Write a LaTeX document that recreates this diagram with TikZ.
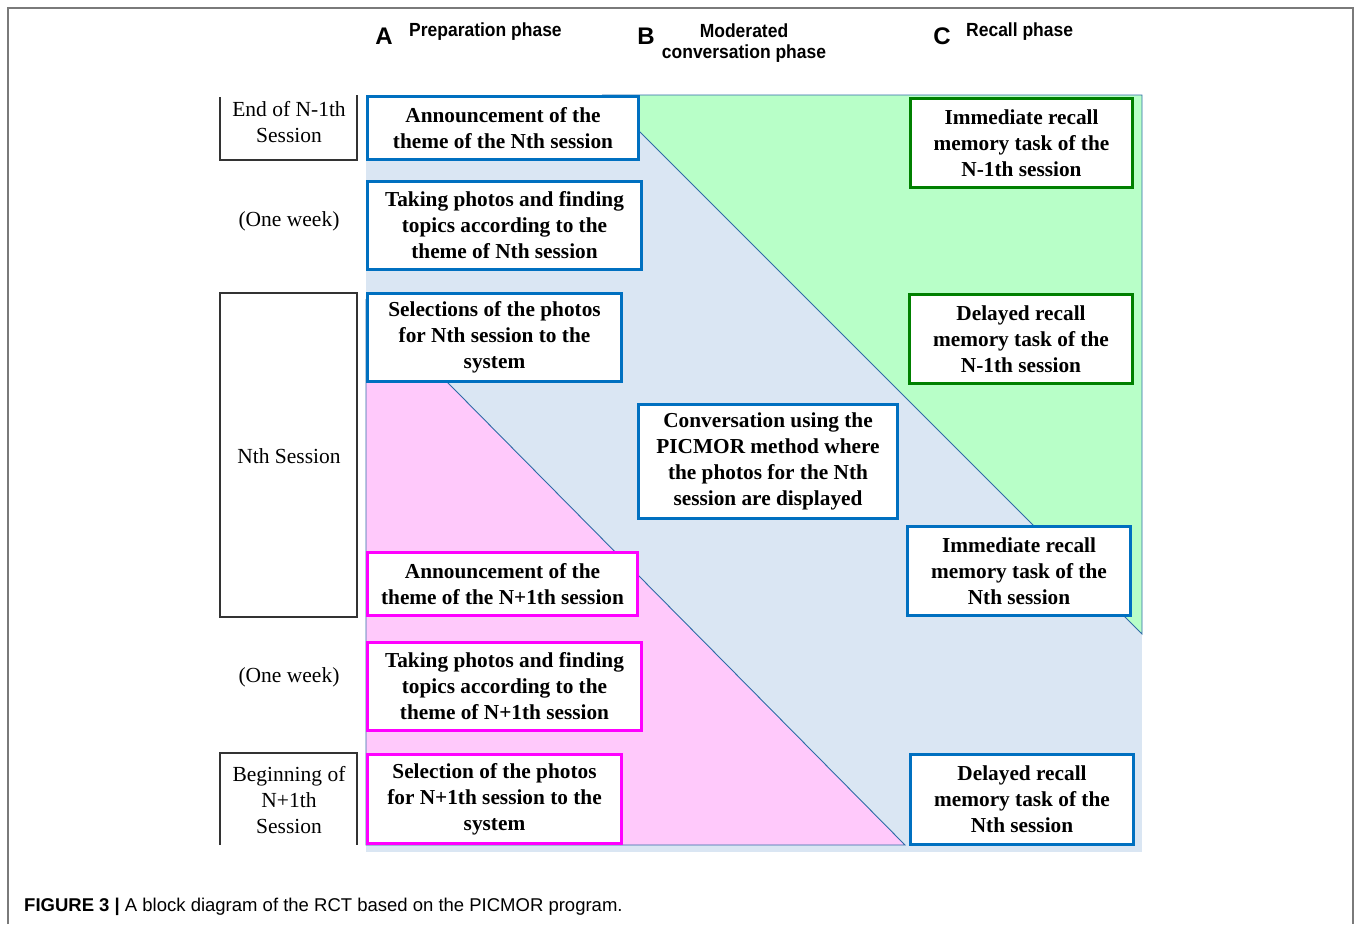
\documentclass[tikz,border=0pt]{standalone}
\usepackage{fontspec}
\setmainfont{Liberation Serif}
\setsansfont{Liberation Sans}
\definecolor{boxblue}{HTML}{0070C0}
\definecolor{boxmag}{HTML}{FF00FF}
\definecolor{boxgreen}{HTML}{008000}
\definecolor{zoneblue}{HTML}{DAE6F3}
\definecolor{zonegreen}{HTML}{B8FFC8}
\definecolor{zonepink}{HTML}{FFC9FB}
\definecolor{edgeblue}{HTML}{2E6BA6}
\definecolor{framegray}{HTML}{7A7A7A}
\definecolor{tickgray}{HTML}{333333}
\newcommand{\narrowbf}[1]{\scalebox{0.92}[1]{\bfseries #1}}
\tikzset{
  stage/.style={draw, line width=3.6pt, fill=white, align=center, inner sep=0pt,
    font=\fontsize{21.3}{26}\selectfont\bfseries},
  bluebox/.style={stage, draw=boxblue},
  magbox/.style={stage, draw=boxmag},
  greenbox/.style={stage, draw=boxgreen},
  timelabel/.style={align=center, inner sep=0pt, font=\fontsize{21.5}{26}\selectfont},
  bracket/.style={draw=tickgray, line width=1.6pt},
  phaseletter/.style={inner sep=0pt, font=\sffamily\bfseries\fontsize{24}{26}\selectfont},
  phasename/.style={inner sep=0pt, font=\sffamily\fontsize{19}{21}\selectfont, align=center}
}
\begin{document}
\begin{tikzpicture}[x=1pt,y=-1pt]
\useasboundingbox (0,0) rectangle (1356,924);

% outer frame (open at the bottom)
\draw[framegray, line width=1.4pt] (8,924) -- (8,8) -- (1353,8) -- (1353,924);

% phase headings
\node[phaseletter] (la) at (384,36) {A};
\node[phasename, anchor=west] (pa) at (409,32) {\narrowbf{Preparation phase}};
\node[phaseletter] (lb) at (646,36) {B};
\node[phasename] (pb) at (744,43) {\narrowbf{Moderated}\\\narrowbf{conversation phase}};
\node[phaseletter] (lc) at (942,36) {C};
\node[phasename, anchor=west] (pc) at (966,32) {\narrowbf{Recall phase}};

% coloured phase zones
\fill[zoneblue] (366,95) rectangle (1142,852);
\filldraw[fill=zonegreen, draw=edgeblue, line width=0.9pt]
  (603,95) -- (1142,95) -- (1142,634) -- cycle;
\filldraw[fill=zonepink, draw=edgeblue, line width=0.9pt]
  (366,300) -- (905,845) -- (366,845) -- cycle;

% time axis on the left
\draw[bracket] (220,97) -- (220,160) -- (357,160) -- (357,95);
\node[timelabel] (t1) at (289,122) {End of N-1th\\Session};
\node[timelabel] (t2) at (289,221) {(One week)};
\draw[bracket] (220,293) rectangle (357,617);
\node[timelabel] (t3) at (289,456) {Nth Session};
\node[timelabel] (t4) at (289,677) {(One week)};
\draw[bracket] (220,845) -- (220,753) -- (357,753) -- (357,845);
\node[timelabel] (t5) at (289,800) {Beginning of\\N+1th\\Session};

% preparation phase, Nth session
\node[bluebox, minimum width=271pt, minimum height=63pt] (p1) at (503,128)
  {Announcement of the\\theme of the Nth session};
\node[bluebox, minimum width=274pt, minimum height=88pt] (p2) at (504.5,225.5)
  {Taking photos and finding\\topics according to the\\theme of Nth session};
\node[bluebox, minimum width=254pt, minimum height=88pt] (p3) at (494.5,337.5)
  {Selections of the photos\\for Nth session to the\\system};

% moderated conversation
\node[bluebox, minimum width=259pt, minimum height=114pt] (m1) at (768,461.5)
  {Conversation using the\\PICMOR method where\\the photos for the Nth\\session are displayed};

% preparation phase, N+1th session
\node[magbox, minimum width=270pt, minimum height=63pt] (q1) at (502.5,584)
  {Announcement of the\\theme of the N+1th session};
\node[magbox, minimum width=274pt, minimum height=88pt] (q2) at (504.5,686.5)
  {Taking photos and finding\\topics according to the\\theme of N+1th session};
\node[magbox, minimum width=254pt, minimum height=89pt] (q3) at (494.5,799)
  {Selection of the photos\\for N+1th session to the\\system};

% recall phase
\node[greenbox, minimum width=222pt, minimum height=89pt] (r1) at (1021.5,143)
  {Immediate recall\\memory task of the\\N-1th session};
\node[greenbox, minimum width=223pt, minimum height=89pt] (r2) at (1021,339)
  {Delayed recall\\memory task of the\\N-1th session};
\node[bluebox, minimum width=223pt, minimum height=89pt] (r3) at (1019,571)
  {Immediate recall\\memory task of the\\Nth session};
\node[bluebox, minimum width=223pt, minimum height=90pt] (r4) at (1022,799.5)
  {Delayed recall\\memory task of the\\Nth session};

% caption
\node[anchor=west, inner sep=0pt, font=\sffamily\fontsize{18.5}{20}\selectfont] (cap) at (24,907)
  {\textbf{FIGURE 3 |} A block diagram of the RCT based on the PICMOR program.};
\end{tikzpicture}
\end{document}
